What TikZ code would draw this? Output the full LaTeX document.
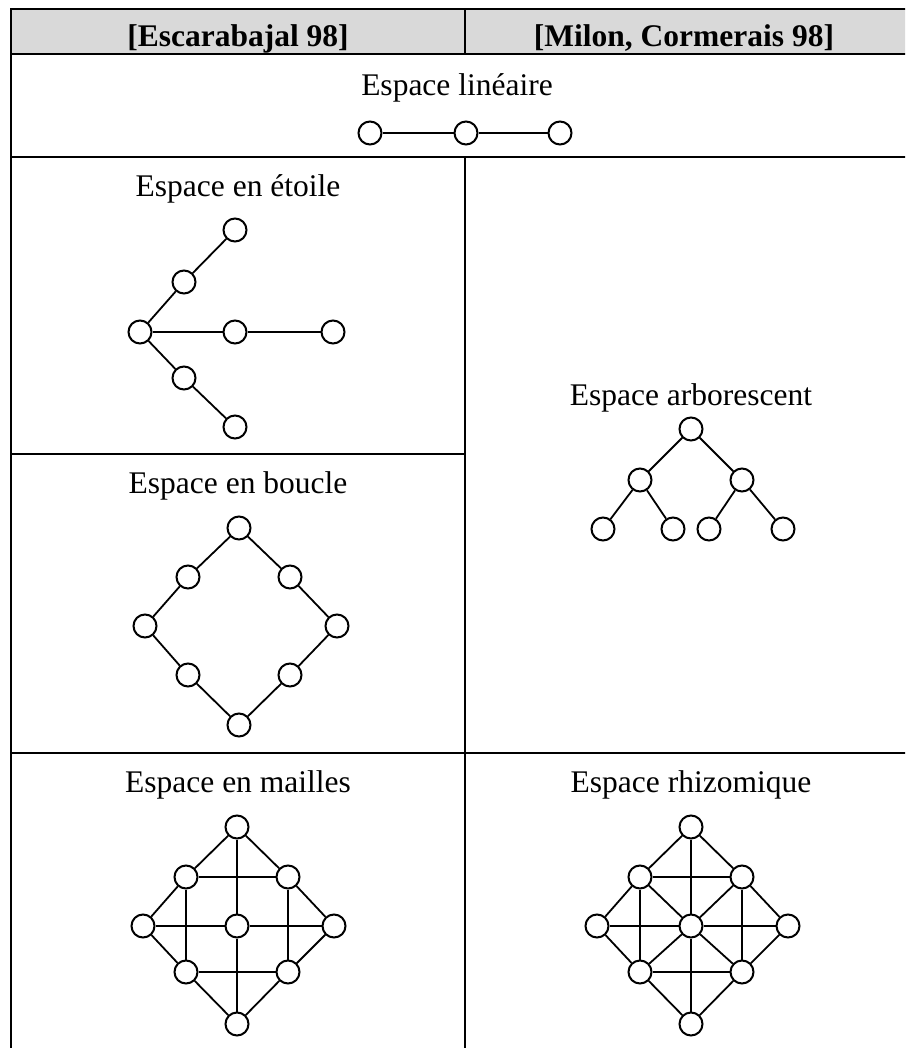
\documentclass[tikz,border=0pt]{standalone}
\usepackage{fontspec}
\setmainfont{Liberation Serif}
\usetikzlibrary{positioning}
\definecolor{headGray}{RGB}{217,217,217}
\tikzset{
    site/.style={circle, draw, line width=2pt, fill=white, minimum size=23pt, inner sep=0pt},
    linkline/.style={line width=1.8pt},
    gridline/.style={line width=2pt},
    celltitle/.style={anchor=base, font=\fontsize{31.5}{36}\selectfont},
    common settings/.style={x=1pt, y=-1pt}
}
\begin{document}
\begin{tikzpicture}[common settings]

    % Page frame
    \clip (0,0) rectangle (905,1048);

    % 1. Table grid
    \fill[headGray] (11,9) rectangle (907,54);
    \draw[gridline] (11,9) rectangle (907,1050);
    \draw[gridline] (11,54) -- (907,54);
    \draw[gridline] (11,157) -- (907,157);
    \draw[gridline] (11,454) -- (465,454);
    \draw[gridline] (11,753) -- (907,753);
    \draw[gridline] (465,9) -- (465,54);
    \draw[gridline] (465,157) -- (465,1050);

    % 2. Headers and cell titles
    \node[celltitle, font=\fontsize{31.5}{36}\selectfont\bfseries] (headL) at (238,47) {[Escarabajal 98]};
    \node[celltitle, font=\fontsize{31.5}{36}\selectfont\bfseries] (headR) at (684,47) {[Milon, Cormerais 98]};
    \node[celltitle] (tLin) at (457,96) {Espace linéaire};
    \node[celltitle] (tStar) at (238,197) {Espace en étoile};
    \node[celltitle] (tLoop) at (238,493) {Espace en boucle};
    \node[celltitle] (tTree) at (691,405) {Espace arborescent};
    \node[celltitle] (tMesh) at (238,792) {Espace en mailles};
    \node[celltitle] (tRhiz) at (691,792) {Espace rhizomique};

    % 3. Linear space
    \node[site] (lin1) at (370,133) {};
    \node[site] (lin2) at (466,133) {};
    \node[site] (lin3) at (560,133) {};
    \draw[linkline] (lin1) -- (lin2) -- (lin3);

    % 4. Star space
    \node[site] (st-c) at (140,332) {};
    \node[site] (st-m) at (235,332) {};
    \node[site] (st-r) at (333,332) {};
    \node[site] (st-u1) at (184,282) {};
    \node[site] (st-u2) at (235,230) {};
    \node[site] (st-d1) at (184,378) {};
    \node[site] (st-d2) at (235,427) {};
    \foreach \a/\b in {c/m, m/r, c/u1, u1/u2, c/d1, d1/d2}
        \draw[linkline] (st-\a) -- (st-\b);

    % 5. Loop space
    \node[site] (lp-t) at (239,528) {};
    \node[site] (lp-ul) at (188,577) {};
    \node[site] (lp-ur) at (290,577) {};
    \node[site] (lp-l) at (145,626) {};
    \node[site] (lp-r) at (337,626) {};
    \node[site] (lp-ll) at (188,675) {};
    \node[site] (lp-lr) at (290,675) {};
    \node[site] (lp-b) at (239,725) {};
    \foreach \a/\b in {t/ul, ul/l, l/ll, ll/b, b/lr, lr/r, r/ur, ur/t}
        \draw[linkline] (lp-\a) -- (lp-\b);

    % 6. Tree space
    \node[site] (tr-t) at (691,429) {};
    \node[site] (tr-ml) at (640,480) {};
    \node[site] (tr-mr) at (742,480) {};
    \node[site] (tr-a) at (603,529) {};
    \node[site] (tr-b) at (673,529) {};
    \node[site] (tr-c) at (709,529) {};
    \node[site] (tr-d) at (783,529) {};
    \foreach \a/\b in {t/ml, t/mr, ml/a, ml/b, mr/c, mr/d}
        \draw[linkline] (tr-\a) -- (tr-\b);

    % 7. Mesh and rhizome spaces (same grid, rhizome adds diagonals)
    \foreach \p/\cx in {m/237, r/691} {
        \node[site] (\p-t) at (\cx,827) {};
        \node[site] (\p-ul) at (\cx-51,877) {};
        \node[site] (\p-ur) at (\cx+51,877) {};
        \node[site] (\p-l) at (\cx-94,926) {};
        \node[site] (\p-c) at (\cx,926) {};
        \node[site] (\p-r) at (\cx+97,926) {};
        \node[site] (\p-ll) at (\cx-51,972) {};
        \node[site] (\p-lr) at (\cx+51,972) {};
        \node[site] (\p-b) at (\cx,1024) {};
        \foreach \a/\b in {t/ul, ul/l, l/ll, ll/b, b/lr, lr/r, r/ur, ur/t,
                           ul/ur, ll/lr, l/c, c/r, t/c, c/b, ul/ll, ur/lr}
            \draw[linkline] (\p-\a) -- (\p-\b);
    }
    \foreach \a in {ul, ur, ll, lr}
        \draw[linkline] (r-c) -- (r-\a);

\end{tikzpicture}
\end{document}
